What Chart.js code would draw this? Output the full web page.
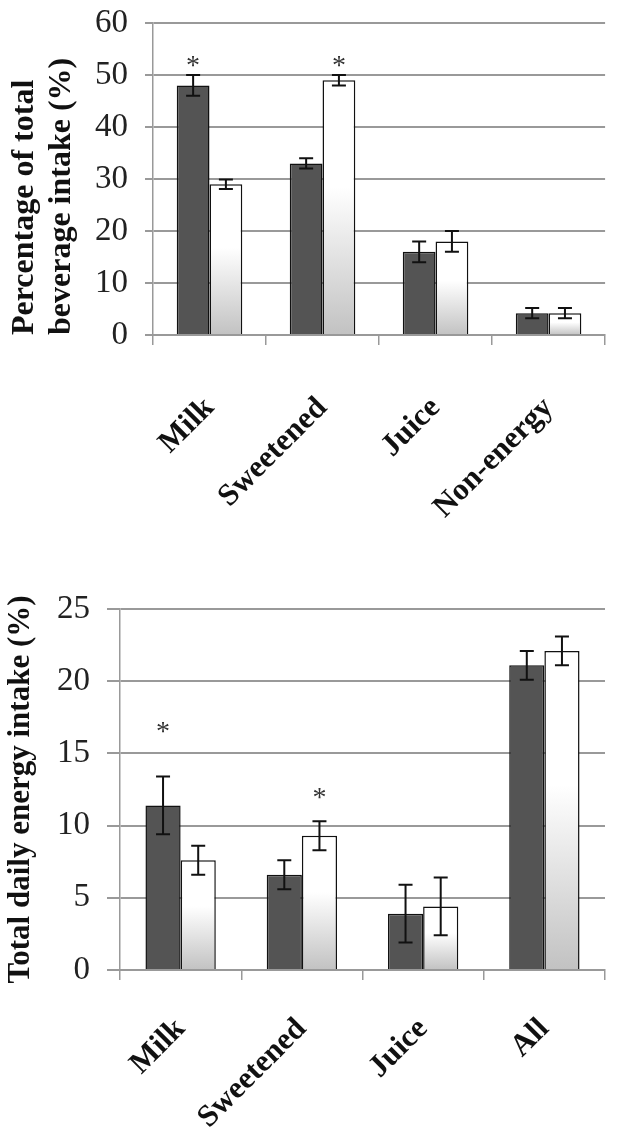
<!DOCTYPE html>
<html><head><meta charset="utf-8">
<script src="https://cdn.jsdelivr.net/npm/chart.js@4"></script>
<style>
html,body{margin:0;padding:0;background:#fff;width:621px;height:1138px;overflow:hidden}
#w1{position:absolute;left:0;top:0;width:621px;height:540px}
#w2{position:absolute;left:0;top:560px;width:621px;height:578px}
</style></head><body>
<div id="w1"><canvas id="c1"></canvas></div>
<div id="w2"><canvas id="c2"></canvas></div>
<script>
// ---- Data: top panel (percentage of total beverage intake) ----
const topCategories = ['Milk', 'Sweetened', 'Juice', 'Non-energy'];
const topDark = [48, 33, 16, 4.2];
const topDarkErr = [2, 1, 2, 1];
const topWhite = [29, 49, 18, 4.2];
const topWhiteErr = [0.9, 1, 2, 1];
const topDarkStar = [52.6, null, null, null];
const topWhiteStar = [null, 52.6, null, null];
const topTicks = [0, 10, 20, 30, 40, 50, 60];

// ---- Data: bottom panel (total daily energy intake) ----
const botCategories = ['Milk', 'Sweetened', 'Juice', 'All'];
const botDark = [11.4, 6.6, 3.9, 21.1];
const botDarkErr = [2, 1, 2, 1];
const botWhite = [7.6, 9.3, 4.4, 22.1];
const botWhiteErr = [1, 1, 2, 1];
const botDarkStar = [16.8, null, null, null];
const botWhiteStar = [null, 12.2, null, null];
const botTicks = [0, 5, 10, 15, 20, 25];

const SERIF = "'Liberation Serif', 'Times New Roman', serif";

function whiteGradient(ctx) {
  const chart = ctx.chart;
  if (!chart.chartArea || ctx.type !== 'data') return '#ffffff';
  const y = chart.scales.y;
  const v = ctx.raw;
  const yTop = y.getPixelForValue(v);
  const yBot = y.getPixelForValue(0);
  if (!isFinite(yTop) || !isFinite(yBot) || yBot - yTop < 1) return '#ffffff';
  const g = chart.ctx.createLinearGradient(0, yTop, 0, yBot);
  g.addColorStop(0, '#ffffff');
  g.addColorStop(0.42, '#ffffff');
  g.addColorStop(1, '#c2c2c2');
  return g;
}

const errStarPlugin = {
  id: 'errStar',
  afterDatasetsDraw(chart) {
    const c = chart.ctx;
    const y = chart.scales.y;
    chart.data.datasets.forEach((ds, di) => {
      const meta = chart.getDatasetMeta(di);
      meta.data.forEach((bar, i) => {
        const v = ds.data[i];
        const e = ds.errors[i];
        const x = bar.x;
        const yHi = y.getPixelForValue(v + e);
        const yLo = y.getPixelForValue(v - e);
        c.save();
        c.strokeStyle = '#111';
        c.lineWidth = 2;
        c.beginPath();
        c.moveTo(x, yHi); c.lineTo(x, yLo);
        c.moveTo(x - 7, yHi); c.lineTo(x + 7, yHi);
        c.moveTo(x - 7, yLo); c.lineTo(x + 7, yLo);
        c.stroke();
        const s = ds.stars[i];
        if (s !== null && s !== undefined) {
          c.fillStyle = '#333';
          c.font = '28px ' + SERIF;
          c.textAlign = 'center';
          c.textBaseline = 'middle';
          c.fillText('*', x, y.getPixelForValue(s) + 5);
        }
        c.restore();
      });
    });
  }
};

function makeChart(id, cats, dark, darkErr, darkStar, white, whiteErr, whiteStar, ticks, title, opts) {
  return new Chart(document.getElementById(id), {
    type: 'bar',
    data: {
      labels: cats,
      datasets: [
        { data: dark, errors: darkErr, stars: darkStar, backgroundColor: '#545454', borderColor: '#111', borderWidth: 1.5,
          categoryPercentage: 0.58, barPercentage: 1.0 },
        { data: white, errors: whiteErr, stars: whiteStar, backgroundColor: whiteGradient, borderColor: '#111', borderWidth: 1.5,
          categoryPercentage: 0.58, barPercentage: 1.0 }
      ]
    },
    options: {
      responsive: true,
      maintainAspectRatio: false,
      animation: false,
      events: [],
      layout: { padding: { top: opts.top, right: opts.right, left: 0, bottom: 0 } },
      plugins: { legend: { display: false }, tooltip: { enabled: false } },
      scales: {
        x: {
          grid: { display: true, drawOnChartArea: false, drawTicks: true, tickLength: 10, color: '#999', lineWidth: 1.5, offset: true },
          border: { display: true, color: '#999', width: 2 },
          ticks: { color: '#111', font: { family: SERIF, size: 31, weight: 'bold' }, minRotation: 45, maxRotation: 45, padding: opts.xpad, autoSkip: false },
          afterFit: (s) => { s.height = opts.xh; }
        },
        y: {
          min: ticks[0], max: ticks[ticks.length - 1],
          grid: { color: '#999', lineWidth: 2, tickLength: opts.tl, drawTicks: true },
          border: { display: true, color: '#999', width: 1.5 },
          ticks: { stepSize: ticks[1] - ticks[0], color: '#222', font: { family: SERIF, size: 33, lineHeight: 0.3 }, padding: opts.ypad },
          title: { display: true, text: title, align: opts.talign, color: '#111', font: { family: SERIF, size: opts.tsize, weight: 'bold', lineHeight: 1.16 }, padding: { top: opts.tp, bottom: 0 } },
          afterFit: (s) => { s.width = opts.yw; }
        }
      }
    },
    plugins: [errStarPlugin]
  });
}

makeChart('c1', topCategories, topDark, topDarkErr, topDarkStar, topWhite, topWhiteErr, topWhiteStar, topTicks,
  ['Percentage of total', 'beverage intake (%)'],
  { top: 23, right: 9, xh: 205, yw: 153, tl: 8, ypad: 17, tp: 6, tsize: 32, talign: 'start', xpad: 45 });

makeChart('c2', botCategories, botDark, botDarkErr, botDarkStar, botWhite, botWhiteErr, botWhiteStar, botTicks,
  'Total daily energy intake (%)',
  { top: 49, right: 16, xh: 168, yw: 120, tl: 13, ypad: 17, tp: 3, tsize: 31, talign: 'center', xpad: 31 });
</script>
</body></html>
